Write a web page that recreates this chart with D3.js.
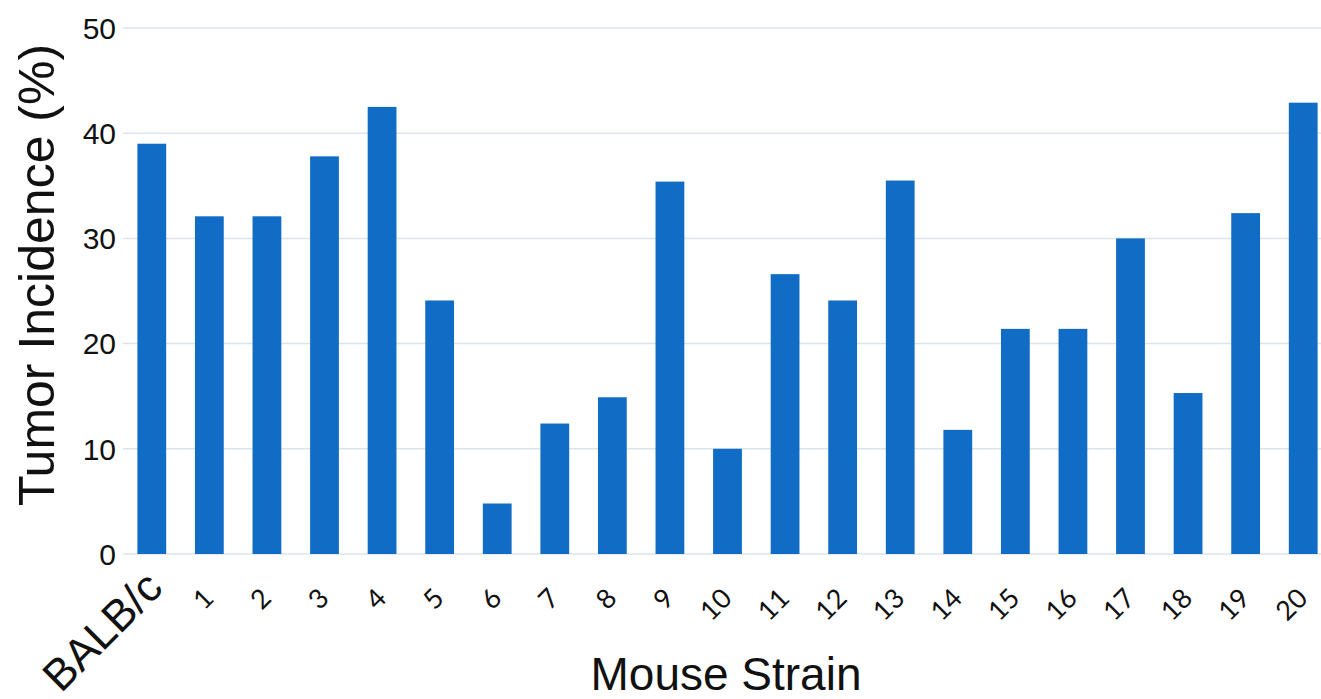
<!DOCTYPE html>
<html>
<head>
<meta charset="utf-8">
<script src="https://cdn.jsdelivr.net/npm/d3@7"></script>
<style>
  html, body { margin: 0; padding: 0; background: #ffffff; }
  svg { display: block; font-family: "Liberation Sans", Arial, sans-serif; }
</style>
</head>
<body>
<svg id="chart" width="1321" height="699"></svg>
<script>
// Tumor incidence per mouse strain
const strains = ["BALB/c", "1", "2", "3", "4", "5", "6", "7", "8", "9", "10",
                 "11", "12", "13", "14", "15", "16", "17", "18", "19", "20"];
const incidence = [39.0, 32.1, 32.1, 37.8, 42.5, 24.1, 4.8, 12.4, 14.9, 35.4, 10.0,
                   26.6, 24.1, 35.5, 11.8, 21.4, 21.4, 30.0, 15.3, 32.4, 42.9];
const yTicks = [0, 10, 20, 30, 40, 50];

const svg = d3.select("#chart");

const x = d3.scaleBand()
  .domain(strains)
  .range([123, 1332])
  .paddingInner(0.5)
  .paddingOuter(0.25);

const y = d3.scaleLinear()
  .domain([0, 50])
  .range([554, 28]);

// horizontal gridlines
svg.append("g")
  .selectAll("line")
  .data(yTicks)
  .join("line")
  .attr("x1", 123)
  .attr("x2", 1321)
  .attr("y1", d => y(d))
  .attr("y2", d => y(d))
  .attr("stroke", "#dbe4ec")
  .attr("stroke-width", 1.5);

// y tick labels
svg.append("g")
  .selectAll("text")
  .data(yTicks)
  .join("text")
  .attr("x", 116)
  .attr("y", d => y(d))
  .attr("dy", "0.36em")
  .attr("text-anchor", "end")
  .attr("font-size", 30)
  .attr("fill", "#111")
  .text(d => d);

// bars
svg.append("g")
  .selectAll("rect")
  .data(strains.map((s, i) => ({ s, v: incidence[i] })))
  .join("rect")
  .attr("x", d => x(d.s))
  .attr("width", x.bandwidth())
  .attr("y", d => y(d.v))
  .attr("height", d => y(0) - y(d.v))
  .attr("fill", "#106cc4");

// x tick labels, rotated
svg.append("g")
  .selectAll("text")
  .data(strains)
  .join("text")
  .attr("text-anchor", "end")
  .attr("font-family", d => d === "BALB/c" ? null : "Lato, 'Noto Sans', sans-serif")
  .attr("font-size", d => d === "BALB/c" ? 44 : 27)
  .attr("fill", "#111")
  .attr("transform", d => {
    const cx = x(d) + x.bandwidth() / 2;
    return d === "BALB/c"
      ? `translate(${cx + 13},${590}) rotate(-45)`
      : `translate(${cx + 6},${600}) rotate(-45)`;
  })
  .text(d => d);

// axis titles
svg.append("text")
  .attr("transform", "translate(54,275) rotate(-90)")
  .attr("text-anchor", "middle")
  .attr("font-size", 50)
  .attr("fill", "#111")
  .text("Tumor Incidence (%)");

svg.append("text")
  .attr("x", 726)
  .attr("y", 690)
  .attr("text-anchor", "middle")
  .attr("font-size", 46)
  .attr("fill", "#111")
  .text("Mouse Strain");
</script>
</body>
</html>
